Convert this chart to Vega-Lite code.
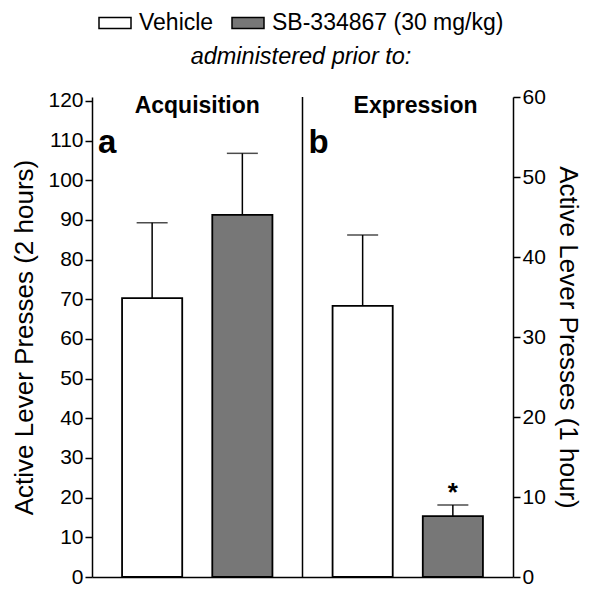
{
  "$schema": "https://vega.github.io/schema/vega-lite/v6.json",
  "width": 421,
  "height": 480,
  "autosize": {"type": "none"},
  "padding": {"left": 92, "top": 97, "right": 87, "bottom": 19},
  "background": "white",
  "datasets": {
    "bars": [
      {"panel": "Acquisition", "condition": "Vehicle", "mean": 70.3, "upper": 89.3, "sig": ""},
      {"panel": "Acquisition", "condition": "SB-334867 (30 mg/kg)", "mean": 91.3, "upper": 106.8, "sig": ""},
      {"panel": "Expression", "condition": "Vehicle", "mean": 33.9, "upper": 42.75, "sig": ""},
      {"panel": "Expression", "condition": "SB-334867 (30 mg/kg)", "mean": 7.6, "upper": 9.0, "sig": "*"}
    ],
    "panels": [
      {"panel": "Acquisition", "letter": "a"},
      {"panel": "Expression", "letter": "b"}
    ]
  },
  "config": {
    "view": {"stroke": null},
    "font": "Liberation Sans",
    "axis": {
      "labelFontSize": 21, "titleFontSize": 26, "titleFontWeight": "normal",
      "labelColor": "black", "titleColor": "black", "tickColor": "black", "domainColor": "black",
      "tickSize": 7, "tickWidth": 1.5, "domainWidth": 1.5, "labelPadding": 2, "grid": false
    }
  },
  "layer": [
    {
      "data": {"name": "bars"},
      "transform": [{"filter": "datum.panel == 'Acquisition'"}],
      "layer": [
        {
          "mark": {"type": "bar", "stroke": "black", "strokeWidth": 1.8},
          "encoding": {
            "x": {"field": "panel", "type": "nominal", "scale": {"domain": ["Acquisition", "Expression"], "paddingInner": 0, "paddingOuter": 0}, "axis": {"labels": false, "ticks": false, "title": null}},
            "xOffset": {"field": "condition", "type": "nominal", "scale": {"domain": ["Vehicle", "SB-334867 (30 mg/kg)"], "paddingInner": 0.3333, "paddingOuter": 0.3333}},
            "y": {"field": "mean", "type": "quantitative", "scale": {"domain": [0, 121], "nice": false}, "axis": {"orient": "left", "values": [0, 10, 20, 30, 40, 50, 60, 70, 80, 90, 100, 110, 120], "title": "Active Lever Presses (2 hours)", "titlePadding": 10}},
            "fill": {"field": "condition", "type": "nominal", "scale": {"domain": ["Vehicle", "SB-334867 (30 mg/kg)"], "range": ["white", "#777777"]},
              "legend": {"orient": "none", "legendX": 6, "legendY": -91, "direction": "horizontal", "title": "administered prior to:", "titleOrient": "bottom", "titleAnchor": "middle", "titleFontStyle": "italic", "titleFontWeight": "normal", "titleFontSize": 23.5, "titleColor": "black", "titlePadding": 10, "titleLimit": 500, "labelLimit": 400, "labelFontSize": 23, "labelColor": "black", "labelOffset": 7, "columnPadding": 15, "symbolType": "M-1,-0.35H1V0.35H-1Z", "symbolSize": 1024, "symbolStrokeColor": "black", "symbolStrokeWidth": 1.5}}
          }
        },
        {
          "mark": {"type": "rule", "color": "black", "strokeWidth": 1.5},
          "encoding": {
            "x": {"field": "panel", "type": "nominal"},
            "xOffset": {"field": "condition", "type": "nominal"},
            "y": {"field": "mean", "type": "quantitative", "scale": {"domain": [0, 121], "nice": false}, "axis": {"orient": "left", "values": [0, 10, 20, 30, 40, 50, 60, 70, 80, 90, 100, 110, 120], "title": "Active Lever Presses (2 hours)", "titlePadding": 10}},
            "y2": {"field": "upper"}
          }
        },
        {
          "mark": {"type": "tick", "color": "black", "size": 31, "thickness": 1.5},
          "encoding": {
            "x": {"field": "panel", "type": "nominal"},
            "xOffset": {"field": "condition", "type": "nominal"},
            "y": {"field": "upper", "type": "quantitative", "scale": {"domain": [0, 121], "nice": false}, "axis": {"orient": "left", "values": [0, 10, 20, 30, 40, 50, 60, 70, 80, 90, 100, 110, 120], "title": "Active Lever Presses (2 hours)", "titlePadding": 10}}
          }
        }
      ]
    },
    {
      "data": {"name": "bars"},
      "transform": [{"filter": "datum.panel == 'Expression'"}],
      "layer": [
        {
          "mark": {"type": "bar", "stroke": "black", "strokeWidth": 1.8},
          "encoding": {
            "x": {"field": "panel", "type": "nominal"},
            "xOffset": {"field": "condition", "type": "nominal"},
            "y": {"field": "mean", "type": "quantitative", "scale": {"domain": [0, 60], "nice": false}, "axis": {"orient": "right", "values": [0, 10, 20, 30, 40, 50, 60], "title": "Active Lever Presses (1 hour)", "titlePadding": 9}},
            "fill": {"field": "condition", "type": "nominal"}
          }
        },
        {
          "mark": {"type": "rule", "color": "black", "strokeWidth": 1.5},
          "encoding": {
            "x": {"field": "panel", "type": "nominal"},
            "xOffset": {"field": "condition", "type": "nominal"},
            "y": {"field": "mean", "type": "quantitative", "scale": {"domain": [0, 60], "nice": false}, "axis": {"orient": "right", "values": [0, 10, 20, 30, 40, 50, 60], "title": "Active Lever Presses (1 hour)", "titlePadding": 9}},
            "y2": {"field": "upper"}
          }
        },
        {
          "mark": {"type": "tick", "color": "black", "size": 31, "thickness": 1.5},
          "encoding": {
            "x": {"field": "panel", "type": "nominal"},
            "xOffset": {"field": "condition", "type": "nominal"},
            "y": {"field": "upper", "type": "quantitative", "scale": {"domain": [0, 60], "nice": false}, "axis": {"orient": "right", "values": [0, 10, 20, 30, 40, 50, 60], "title": "Active Lever Presses (1 hour)", "titlePadding": 9}}
          }
        },
        {
          "mark": {"type": "text", "fontSize": 26, "fontWeight": "bold", "color": "black", "dy": -4, "baseline": "alphabetic"},
          "encoding": {
            "x": {"field": "panel", "type": "nominal"},
            "xOffset": {"field": "condition", "type": "nominal"},
            "y": {"field": "upper", "type": "quantitative", "scale": {"domain": [0, 60], "nice": false}, "axis": {"orient": "right", "values": [0, 10, 20, 30, 40, 50, 60], "title": "Active Lever Presses (1 hour)", "titlePadding": 9}},
            "text": {"field": "sig"}
          }
        }
      ]
    },
    {
      "data": {"name": "panels"},
      "layer": [
        {
          "mark": {"type": "rule", "color": "black", "strokeWidth": 1.5},
          "transform": [{"filter": "datum.panel == 'Expression'"}],
          "encoding": {
            "x": {"field": "panel", "type": "nominal", "bandPosition": 0}
          }
        },
        {
          "mark": {"type": "text", "fontSize": 33, "fontWeight": "bold", "color": "black", "align": "left", "baseline": "alphabetic", "dx": 6},
          "encoding": {
            "x": {"field": "panel", "type": "nominal", "bandPosition": 0},
            "y": {"datum": 106.9, "type": "quantitative", "scale": {"domain": [0, 121], "nice": false}, "axis": null},
            "text": {"field": "letter"}
          }
        },
        {
          "mark": {"type": "text", "fontSize": 23, "fontWeight": "bold", "color": "black", "align": "center", "baseline": "alphabetic"},
          "transform": [{"filter": "datum.panel == 'Acquisition'"}],
          "encoding": {
            "x": {"field": "panel", "type": "nominal", "bandPosition": 0.5},
            "y": {"datum": 117, "type": "quantitative", "scale": {"domain": [0, 121], "nice": false}, "axis": null},
            "text": {"field": "panel"}
          }
        },
        {
          "mark": {"type": "text", "fontSize": 23, "fontWeight": "bold", "color": "black", "align": "center", "baseline": "alphabetic"},
          "transform": [{"filter": "datum.panel == 'Expression'"}],
          "encoding": {
            "x": {"field": "panel", "type": "nominal", "bandPosition": 0.537},
            "y": {"datum": 117, "type": "quantitative", "scale": {"domain": [0, 121], "nice": false}, "axis": null},
            "text": {"field": "panel"}
          }
        }
      ]
    }
  ],
  "resolve": {"scale": {"y": "independent"}}
}
